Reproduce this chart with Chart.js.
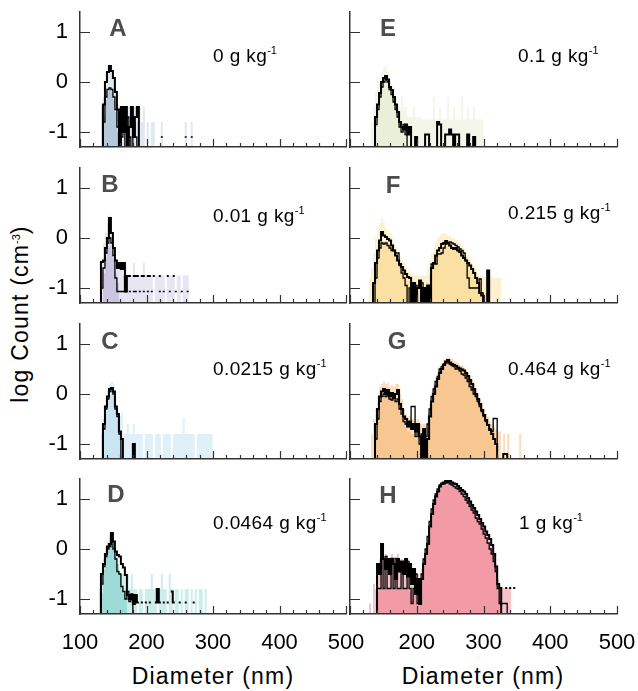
<!DOCTYPE html>
<html>
<head>
<meta charset="utf-8">
<script src="https://cdn.jsdelivr.net/npm/chart.js@4.4.0/dist/chart.umd.min.js"></script>
<style>
  html, body { margin: 0; padding: 0; background: #fff; }
  #fig { position: relative; width: 638px; height: 691px; overflow: hidden;
         font-family: 'Liberation Sans', Arial, Helvetica, sans-serif; color: #000; }
  #fig canvas { position: absolute; }
  .letter { position: absolute; font-weight: bold; font-size: 24px; line-height: 1;
            color: #4d4d4d; transform: translate(-50%, -50%); }
  .conc { position: absolute; font-size: 19px; line-height: 1; white-space: nowrap; letter-spacing: 0.4px; }
  .conc sup, .ytitle sup { font-size: 11px; vertical-align: 8px; line-height: 0; letter-spacing: 0; }
  .xtitle { position: absolute; top: 665px; font-size: 23px; line-height: 1; white-space: nowrap;
            letter-spacing: 1.2px; transform: translateX(-50%); }
  .ytitle { position: absolute; left: 20px; top: 314px; font-size: 23px; line-height: 1; white-space: nowrap;
            letter-spacing: 1.2px; transform: translate(-50%, -50%) rotate(-90deg); }
</style>
</head>
<body>
<div id="fig">
  <div class="ytitle">log Count (cm<sup>-3</sup>)</div>
  <div class="xtitle" style="left:213px">Diameter (nm)</div>
  <div class="xtitle" style="left:483px">Diameter (nm)</div>
</div>
<script>
// ===== Data (log10 count per size bin) =====
const _ = null;   // no data in this bin
const Z = -2;     // empty bin inside a run: drops below the axis

const diameters = [130, 133, 136, 139, 142, 145, 148, 151, 154, 157, 160, 163, 166, 169, 172, 175, 178, 181, 184, 187,
  190, 193, 196, 199, 202, 205, 208, 211, 214, 217, 220, 223, 226, 229, 232, 235, 238, 241, 244, 247,
  250, 253, 256, 259, 262, 265, 268, 271, 274, 277, 280, 283, 286, 289, 292, 295, 298, 301, 304, 307,
  310, 313, 316, 319, 322, 325, 328, 331, 334, 337, 340, 343, 346, 349, 352, 355, 358, 361, 364, 367, 370];

const xTicks = [100, 200, 300, 400, 500];
const xMinorTicks = [120, 140, 160, 180, 220, 240, 260, 280, 320, 340, 360, 380, 420, 440, 460, 480];
const yTicks = [-1, 0, 1];

const panelLetters = ['A', 'B', 'C', 'D', 'E', 'F', 'G', 'H'];
const concentrations = ['0', '0.01', '0.0215', '0.0464', '0.1', '0.215', '0.464', '1'];

// A : 0 g/kg
const aShade = [_, -0.5, -0.3, 0.0, 0.2, 0.35, 0.25, 0.1, -0.15, -0.45, -0.5, -0.5, -0.8, -0.5, -0.5, -0.8, -0.5, -0.5, -0.5, -0.8,
  -0.5, -0.8, -0.5, Z, -0.8, Z, -0.8, -0.8, Z, Z, Z, -0.8, Z, Z, Z, Z, Z, Z, Z, Z, Z, Z, Z, -0.8, Z, Z, -0.8, Z];
const aCore = [_, Z, -0.7, -0.35, -0.2, -0.17, -0.2, -0.35, -0.6, -1.0, Z];
const aHi = [_, Z, -0.45, 0.0, 0.2, 0.32, 0.22, 0.08, -0.2, -0.55, Z, -0.5, -1.0, -0.5, Z, -0.9, -0.5, -1.1, -0.7, -0.5, Z];
const aLo = [_, Z, -0.8, -0.3, -0.15, -0.12, -0.15, -0.3, -0.55, -0.9, Z, -1.1, -0.9, Z, -0.7, -1.1, Z, -0.8, -1.1, Z,
  _, _, _, _, _, _, _, _, _, _, _, -1.1, _, _, _, _, _, _, _, _, _, _, _, -1.1, _, _, -1.1];

// B : 0.01 g/kg
const bShade = [_, -0.5, -0.1, 0.1, 0.3, 0.45, 0.1, -0.3, -0.45, -0.55, -0.5, -0.5, -0.75, -0.5, -0.75, -0.75, -0.75, -0.5, -0.75, -0.75,
  -0.75, -0.75, -0.5, -0.75, -0.75, -0.75, -0.75, Z, -0.75, -0.75, -0.75, -0.75, -0.75, Z, -0.75, -0.75, -0.75, -0.75, Z, -0.75,
  -0.75, Z, -0.75, -0.75, -0.75, Z];
const bCore = [_, Z, -0.7, -0.4, -0.2, -0.15, -0.25, -0.45, -0.7, -0.9, Z];
const bHi = [Z, -0.48, -0.45, -0.2, 0.0, 0.4, 0.1, -0.2, -0.45, -0.6, -0.5, -0.62, -0.5, -1.07, -0.76, -0.76, _, -0.76, -0.76, -0.76,
  _, -0.76, -0.76, _, -0.76, -0.76, _, -0.76, _, _, -0.76, _, _, _, -0.76, _, _, -0.76];
const bLo = [Z, -1.0, -0.6, -0.3, -0.1, 0.0, -0.1, -0.35, -0.8, -1.07, -1.07, -1.07, -1.07, -1.07, _, -1.07, _, -1.07, -1.07, _,
  -1.07, _, -1.07, _, -1.07, _, -1.07, _, _, _, -1.07, _, -1.07, _, _, -1.07, _, _, -1.07, _, _, -1.07, _, _, -1.07];

// C : 0.0215 g/kg
const cShade = [_, -0.8, -0.5, -0.2, 0.05, 0.2, 0.25, 0.2, -0.1, -0.37, -0.45, -0.37, -0.8, -0.8, -0.6, -0.8, -0.8, -0.6, -0.8, -0.8,
  -0.8, -0.8, Z, -0.8, -0.8, -0.8, -0.8, Z, -0.8, -0.8, -0.8, Z, -0.8, -0.8, -0.8, -0.8, Z, -0.8, -0.8, -0.8,
  -0.8, -0.8, -0.48, -0.8, -0.8, -0.8, -0.8, -0.8, Z, -0.8, -0.8, -0.8, -0.8, -0.8, -0.8, -0.8, -0.8, Z];
const cCore = [_, Z, -0.75, -0.4, -0.15, 0.0, 0.08, 0.05, -0.3, -0.5, -0.9, Z];
const cHi = [_, Z, -0.6, -0.25, -0.05, 0.1, 0.12, 0.05, -0.25, -0.4, -0.75, -0.9, Z, Z, Z, Z, Z, -1.0, Z];
const cLo = [_, Z, -0.7, -0.3, -0.1, 0.05, 0.1, 0.0, -0.3, -0.45, -0.8, Z];

// D : 0.0464 g/kg
const dShade = [-0.8, -0.5, -0.2, 0.0, 0.15, 0.25, 0.3, 0.1, -0.1, -0.3, -0.5, -0.5, -0.5, -0.8, -0.5, -0.8, -0.5, -0.8, -0.8, Z,
  -0.8, -0.8, Z, -0.8, -0.8, -0.8, -0.5, -0.8, -0.8, Z, -0.8, -0.5, -0.8, -0.8, Z, -0.5, -0.8, Z, -0.8, -0.8,
  Z, -0.8, Z, -0.8, -0.8, Z, -0.8, Z, -0.8, Z, -0.8, -0.8, Z, -0.8, Z];
const dCore = [Z, -0.9, -0.4, -0.15, 0.0, 0.05, 0.1, 0.05, -0.15, -0.3, -0.5, -0.75, -0.9, -1.0, Z];
const dHi = [Z, -0.5, -0.3, -0.1, 0.05, 0.1, 0.32, 0.15, -0.05, -0.12, -0.15, -0.3, -0.37, -0.52, -0.92, -1.0, -0.92, -1.1, -0.92, -1.07,
  _, -1.07, _, -1.07, _, -1.07, _, _, -1.07, -0.8, -1.07, _, -1.07, _, -1.07, _, -0.85, -1.07, _, _,
  -1.07, _, _, -1.07, _, _, _, -1.07];
const dLo = [Z, -0.7, -0.35, -0.15, 0.0, 0.05, 0.15, 0.0, -0.2, -0.45, -0.5, -0.75, -0.85, -1.0, -0.85, -1.05, -0.9, Z];

// E : 0.1 g/kg
const eShade = [_, -0.8, -0.5, -0.2, 0.0, 0.1, 0.2, 0.3, 0.33, 0.2, 0.05, -0.2, -0.3, -0.45, -0.5, -0.5, -0.3, -0.5, -0.5, -0.7,
  -0.7, -0.7, -0.5, -0.7, -0.7, -0.7, -0.75, -0.75, -0.75, -0.75, -0.75, -0.75, -0.3, -0.75, -0.75, -0.5, -0.75, -0.75, -0.75, -0.3,
  -0.75, -0.75, -0.5, -0.75, -0.75, -0.75, -0.3, -0.75, -0.75, -0.5, -0.75, -0.75, -0.5, -0.75, -0.75, -0.75, -0.75, Z];
const eCore = [_, _, Z, -0.8, -0.5, -0.25, -0.08, 0.0, 0.02, -0.05, -0.2, -0.3, -0.45, -0.6, -0.75, -0.9, -1.0, -1.0, -1.05, Z];
const eHi = [_, _, Z, -0.7, -0.45, -0.22, 0.0, 0.08, 0.12, 0.05, -0.1, -0.16, -0.3, -0.45, -0.6, -0.8, -0.9, -0.95, -0.85, -1.05,
  -0.9, Z, Z, -1.1, Z, Z, Z, Z, -1.05, -1.05, Z, Z, Z, Z, -0.8, -0.85, Z, Z, -1.05, -1.05,
  -0.95, -1.05, Z, -1.05, -1.05, Z, Z, Z, Z, -1.05, Z, Z, -1.1, Z];
const eLo = [_, _, Z, -0.85, -0.55, -0.3, -0.1, 0.0, 0.05, 0.0, -0.15, -0.25, -0.4, -0.55, -0.7, -0.9, -1.0, -0.85, -1.05, Z];

// F : 0.215 g/kg
const fShade = [-0.8, -0.6, -0.3, 0.0, 0.2, 0.3, 0.38, 0.3, 0.2, 0.15, 0.1, 0.0, -0.1, -0.2, -0.3, -0.4, -0.45, -0.5, -0.6, -0.65,
  -0.7, -0.75, -0.75, -0.75, -0.75, -0.75, -0.75, -0.75, -0.75, -0.6, -0.45, -0.3, -0.2, -0.1, 0.0, 0.05, 0.08, 0.1, 0.1, 0.05,
  0.05, 0.0, 0.0, -0.05, -0.1, -0.1, -0.15, -0.2, -0.3, -0.35, -0.4, -0.5, -0.55, -0.6, -0.7, -0.75, -0.78, -0.78, -0.78, -0.78,
  -0.78, -0.78, -0.8, -0.8, -0.8, -0.8, Z];
const fCore = [_, Z, -0.9, -0.55, -0.3, -0.15, -0.05, -0.08, -0.05, -0.1, -0.15, -0.2, -0.3, -0.4, -0.5, -0.55, -0.65, -0.75, -0.8, -0.85,
  -0.85, -0.9, -0.95, -0.95, -0.95, -0.95, -0.95, -0.95, -0.95, -0.9, -0.75, -0.55, -0.45, -0.35, -0.3, -0.25, -0.2, -0.15, -0.12, -0.12,
  -0.15, -0.18, -0.2, -0.22, -0.25, -0.28, -0.32, -0.38, -0.45, -0.55, -0.65, -0.7, -0.8, -0.85, -0.95, -0.95, -1.05, -1.1, -1.1, -1.1, Z];
const fHi = [_, Z, -0.9, -0.5, -0.25, -0.05, 0.12, 0.05, 0.02, -0.02, -0.05, -0.15, -0.25, -0.35, -0.45, -0.52, -0.58, -0.65, -0.72, -0.78,
  -0.8, Z, -0.9, Z, -1.0, -0.85, Z, -1.0, Z, -0.95, Z, -0.6, -0.5, -0.35, -0.25, -0.2, -0.12, -0.1, -0.06, -0.1,
  -0.15, -0.2, -0.22, -0.2, -0.25, -0.28, -0.35, -0.4, -0.45, -0.5, -0.55, -0.62, -0.7, -0.8, -0.9, -1.1, -1.15, Z, Z, -0.65, Z];
const fLo = [_, _, Z, -0.8, -0.4, -0.2, -0.1, -0.12, -0.1, -0.15, -0.2, -0.25, -0.25, -0.3, -0.3, -0.55, -0.7, -0.8, -0.95, Z,
  -1.0, Z, Z, -0.95, Z, Z, -0.9, -1.05, Z, Z, Z, -0.52, -0.52, -0.52, -0.32, -0.32, -0.3, -0.2, -0.12, -0.1,
  -0.08, -0.1, -0.12, -0.15, -0.18, -0.22, -0.25, -0.3, -0.45, -0.8, -1.0, -1.0, -1.0, -1.0, -1.0, -0.82, -1.1, Z];

// G : 0.464 g/kg
const gShade = [_, -0.8, -0.5, -0.3, -0.05, 0.15, 0.2, 0.25, 0.2, 0.22, 0.15, 0.18, 0.15, 0.2, 0.2, 0.0, -0.1, -0.3, -0.4, -0.45,
  -0.45, -0.5, -0.5, -0.55, -0.5, -0.6, -0.6, -0.6, -0.6, -0.4, -0.2, 0.05, 0.2, 0.35, 0.45, 0.55, 0.62, 0.68, 0.72, 0.74,
  0.72, 0.7, 0.67, 0.64, 0.62, 0.58, 0.56, 0.53, 0.48, 0.42, 0.35, 0.28, 0.2, 0.1, 0.0, -0.1, -0.2, -0.3, -0.4, -0.45,
  -0.55, -0.6, -0.65, -0.7, -0.75, -0.75, Z, -0.8, Z, -0.8, Z, Z, Z, Z, Z, -0.8, Z];
const gCore = [_, _, Z, -0.9, -0.55, -0.25, -0.1, -0.05, -0.05, -0.05, -0.1, -0.12, -0.12, -0.15, -0.15, -0.35, -0.45, -0.6, -0.65, -0.75,
  -0.75, -0.8, -0.8, -0.9, -0.85, -1.0, -1.05, -1.0, -1.0, -0.8, -0.5, -0.2, -0.05, 0.1, 0.25, 0.38, 0.46, 0.54, 0.6, 0.62,
  0.6, 0.56, 0.54, 0.52, 0.49, 0.46, 0.44, 0.42, 0.37, 0.3, 0.22, 0.15, 0.05, -0.05, -0.15, -0.25, -0.37, -0.47, -0.57, -0.67,
  -0.77, -0.85, -0.95, -1.05, Z];
const gHi = [_, _, Z, -0.6, -0.3, -0.05, 0.05, 0.1, 0.0, 0.08, -0.05, 0.02, -0.08, 0.0, 0.08, -0.2, -0.3, -0.45, -0.5, -0.65,
  -0.55, -0.7, -0.6, -0.75, -0.6, -0.85, Z, -0.7, Z, -0.9, -0.45, -0.15, 0.0, 0.15, 0.3, 0.42, 0.5, 0.58, 0.65, 0.68,
  0.63, 0.6, 0.58, 0.56, 0.53, 0.51, 0.49, 0.47, 0.42, 0.36, 0.28, 0.2, 0.1, 0.0, -0.1, -0.2, -0.32, -0.42, -0.52, -0.62,
  -0.72, -0.8, -0.9, -1.0, Z, _, Z, -1.2, -1.2, Z];
const gLo = [_, _, Z, -0.9, -0.5, -0.15, -0.05, 0.0, -0.05, -0.02, -0.1, -0.12, -0.05, -0.15, -0.1, -0.3, -0.4, -0.55, -0.6, -0.65,
  -0.6, -0.25, -0.25, -0.85, -0.7, -1.0, -0.8, Z, -0.85, -0.6, -0.3, -0.05, 0.1, 0.25, 0.35, 0.5, 0.55, 0.6, 0.62, 0.65,
  0.6, 0.57, 0.55, 0.5, 0.5, 0.46, 0.4, 0.38, 0.32, 0.25, 0.15, 0.08, 0.0, -0.05, -0.15, -0.25, -0.35, -0.45, -0.55, -0.62,
  -0.7, -0.75, -0.49, -0.49, Z];

// H : 1 g/kg
const hShade = [-1.09, Z, -0.7, -0.8, -0.3, -0.2, 0.0, -0.2, -0.1, -0.2, -0.3, -0.1, -0.2, -0.3, -0.1, -0.3, -0.2, -0.3, -0.2, -0.3,
  -0.3, -0.5, -0.4, -0.5, -0.5, -0.6, -0.4, -0.2, 0.0, 0.2, 0.5, 0.75, 0.95, 1.1, 1.2, 1.28, 1.33, 1.36, 1.38, 1.38,
  1.38, 1.36, 1.33, 1.31, 1.28, 1.24, 1.2, 1.16, 1.12, 1.04, 0.97, 0.9, 0.84, 0.77, 0.7, 0.62, 0.54, 0.47, 0.38, 0.3,
  0.22, 0.1, -0.05, -0.3, -0.6, -0.75, -0.75, -0.78, -0.78, -0.78, -0.78, Z];
const hCore = [_, _, _, Z, -0.85, -0.8, -0.8, -0.8, -0.8, -0.8, -0.8, -0.8, -0.8, -0.8, -0.8, -0.8, -0.8, -0.8, -0.8, -0.8,
  -0.85, -1.0, -0.85, -0.9, -1.1, -1.0, -0.6, -0.3, -0.05, 0.15, 0.45, 0.7, 0.9, 1.03, 1.13, 1.2, 1.25, 1.27, 1.28, 1.28,
  1.27, 1.25, 1.22, 1.2, 1.16, 1.12, 1.08, 1.03, 0.97, 0.9, 0.83, 0.76, 0.7, 0.62, 0.55, 0.48, 0.4, 0.3, 0.22, 0.12,
  0.02, -0.1, -0.25, -0.45, -0.8, -1.05, Z];
const hHi = [_, _, _, Z, -0.3, -0.5, 0.1, -0.2, -0.4, -0.2, -0.5, -0.2, -0.3, -0.6, -0.2, -0.45, -0.25, -0.5, -0.2, -0.55,
  -0.3, -0.7, -0.4, -0.9, -0.6, -1.1, -0.6, -0.3, -0.1, 0.1, 0.45, 0.7, 0.9, 1.05, 1.15, 1.25, 1.3, 1.33, 1.36, 1.35,
  1.36, 1.33, 1.31, 1.3, 1.26, 1.22, 1.18, 1.15, 1.1, 1.02, 0.95, 0.88, 0.82, 0.75, 0.68, 0.6, 0.52, 0.45, 0.35, 0.28,
  0.2, 0.08, -0.1, -0.35, -0.7, -0.78, Z, _, -0.78, _, -0.78, _, -0.78];
const hLo = [_, _, _, Z, -0.79, -0.79, -0.2, -0.79, -0.15, -0.79, -0.79, -0.19, -0.79, -0.19, -0.79, -0.79, -0.3, -0.79, -0.79, -0.25,
  -0.79, -1.09, -0.79, -0.5, -1.09, -0.79, -0.5, -0.2, 0.0, 0.25, 0.55, 0.8, 0.98, 1.1, 1.2, 1.28, 1.32, 1.3, 1.32, 1.33,
  1.3, 1.28, 1.25, 1.22, 1.2, 1.15, 1.1, 1.05, 0.98, 0.92, 0.85, 0.78, 0.72, 0.62, 0.55, 0.5, 0.4, 0.3, 0.22, 0.12,
  0.0, -0.1, -0.25, -0.45, -0.79, -1.09, -1.09, -1.09, -1.09, Z];

// ===== Colours =====
const shadeColors = ['#e0e8f0', '#e8e5f3', '#e0f0f8', '#cbeeeb', '#f4f6ea', '#fdf0ce', '#fcddbb', '#f7c3ca'];
const coreColors = ['#b5c8da', '#cbc5e2', '#c9e4f2', '#9edbd6', '#eaefd8', '#fae1a3', '#f7c691', '#f29ba6'];
const AXIS = '#333';
const FONT = "'Liberation Sans', Arial, Helvetica, sans-serif";

// ===== Layout (pixels) =====
const FIG_H = 691;
const PAD = 12;
const ROW_TOP = [12, 168, 324, 479];
const ROW_BOTTOM = [147, 303, 459, 614];
const CANVAS_LEFT = [0, 340];
const CANVAS_W = [372, 298];
const Y_AXIS_W = [80, 10];
const PAD_RIGHT = [26, 21];
const CONC_X = [213, 213, 213, 213, 518, 508, 508, 519];
const CONC_Y = [46, 206, 359, 513, 46, 203, 359, 513];
const LETTER_POS = [[118, 28], [110, 184], [110, 341], [116, 494], [388, 28], [393, 185], [397, 341], [388, 495]];

const panels = [
  { shade: aShade, core: aCore, hi: aHi, lo: aLo },
  { shade: bShade, core: bCore, hi: bHi, lo: bLo },
  { shade: cShade, core: cCore, hi: cHi, lo: cLo },
  { shade: dShade, core: dCore, hi: dHi, lo: dLo },
  { shade: eShade, core: eCore, hi: eHi, lo: eLo },
  { shade: fShade, core: fCore, hi: fHi, lo: fLo },
  { shade: gShade, core: gCore, hi: gHi, lo: gLo },
  { shade: hShade, core: hCore, hi: hHi, lo: hLo }
];

// histogram bins -> step outline points (bin edges)
function toSteps(values) {
  const half = (diameters[1] - diameters[0]) / 2;
  const pts = [];
  diameters.forEach((d, i) => {
    const v = values[i];
    if (v === null || v === undefined) {
      pts.push({ x: d, y: null });
      return;
    }
    pts.push({ x: d - half, y: v }, { x: d + half, y: v });
  });
  return pts;
}

function stepLine(values, width) {
  return { data: toSteps(values), borderColor: '#000', borderWidth: width, pointRadius: 0,
           fill: false, tension: 0, clip: 0 };
}

function stepArea(values, color) {
  return { data: toSteps(values), borderColor: 'rgba(0,0,0,0)', borderWidth: 1, backgroundColor: color,
           pointRadius: 0, fill: 'start', tension: 0, clip: 0 };
}

// inward tick marks, as in the original figure
const innerTicks = {
  id: 'innerTicks',
  afterDatasetsDraw(chart) {
    const { ctx, chartArea, scales: { x, y } } = chart;
    ctx.save();
    ctx.strokeStyle = AXIS;
    ctx.lineWidth = 1.2;
    ctx.beginPath();
    xTicks.concat(xMinorTicks).forEach(v => {
      const px = Math.round(x.getPixelForValue(v)) + 0.5;
      const len = xTicks.includes(v) ? 8 : 4;
      ctx.moveTo(px, chartArea.bottom);
      ctx.lineTo(px, chartArea.bottom - len);
    });
    yTicks.forEach(v => {
      const py = Math.round(y.getPixelForValue(v)) + 0.5;
      ctx.moveTo(chartArea.left, py);
      ctx.lineTo(chartArea.left + 10, py);
    });
    ctx.stroke();
    ctx.restore();
  }
};

const fig = document.getElementById('fig');

panels.forEach((p, k) => {
  const col = k < 4 ? 0 : 1;
  const row = k % 4;
  const isBottom = row === 3;
  const top = ROW_TOP[row] - PAD;
  const height = isBottom ? FIG_H - top : (ROW_BOTTOM[row] - ROW_TOP[row]) + 2 * PAD;

  const canvas = document.createElement('canvas');
  canvas.width = CANVAS_W[col];
  canvas.height = height;
  canvas.style.left = CANVAS_LEFT[col] + 'px';
  canvas.style.top = top + 'px';
  fig.appendChild(canvas);

  new Chart(canvas, {
    type: 'line',
    data: {
      datasets: [
        stepLine(p.hi, 2),
        stepLine(p.lo, 1.3),
        stepArea(p.core, coreColors[k]),
        stepArea(p.shade, shadeColors[k])
      ]
    },
    options: {
      responsive: false,
      animation: false,
      events: [],
      layout: { padding: { top: PAD, right: PAD_RIGHT[col], bottom: isBottom ? 0 : PAD, left: 0 } },
      plugins: { legend: { display: false }, tooltip: { enabled: false } },
      scales: {
        x: {
          type: 'linear',
          min: 100,
          max: 500,
          afterBuildTicks: s => { s.ticks = xTicks.map(v => ({ value: v })); },
          afterFit: s => {
            s.height = isBottom ? FIG_H - ROW_BOTTOM[3] : 0;
            s.paddingLeft = 0;
            s.paddingRight = 0;
          },
          grid: { display: true, drawOnChartArea: false, drawTicks: false },
          border: { display: true, color: AXIS, width: 1.5, z: 1 },
          ticks: {
            display: isBottom,
            autoSkip: false,
            maxRotation: 0,
            padding: 16,
            color: '#000',
            font: { family: FONT, size: 22 },
            callback: v => (col === 1 && v === 100) ? '' : String(v)
          }
        },
        y: {
          min: -1.3,
          max: 1.4,
          afterBuildTicks: s => { s.ticks = yTicks.map(v => ({ value: v })); },
          afterFit: s => {
            s.width = Y_AXIS_W[col];
            s.paddingTop = 0;
            s.paddingBottom = 0;
          },
          grid: { display: true, drawOnChartArea: false, drawTicks: false },
          border: { display: true, color: AXIS, width: 1.5, z: 1 },
          ticks: {
            display: col === 0,
            padding: 12,
            color: '#000',
            font: { family: FONT, size: 22 }
          }
        }
      }
    },
    plugins: [innerTicks]
  });

  const letter = document.createElement('div');
  letter.className = 'letter';
  letter.textContent = panelLetters[k];
  letter.style.left = LETTER_POS[k][0] + 'px';
  letter.style.top = LETTER_POS[k][1] + 'px';
  fig.appendChild(letter);

  const conc = document.createElement('div');
  conc.className = 'conc';
  conc.innerHTML = concentrations[k] + ' g kg<sup>-1</sup>';
  conc.style.left = CONC_X[k] + 'px';
  conc.style.top = CONC_Y[k] + 'px';
  fig.appendChild(conc);
});
</script>
</body>
</html>
